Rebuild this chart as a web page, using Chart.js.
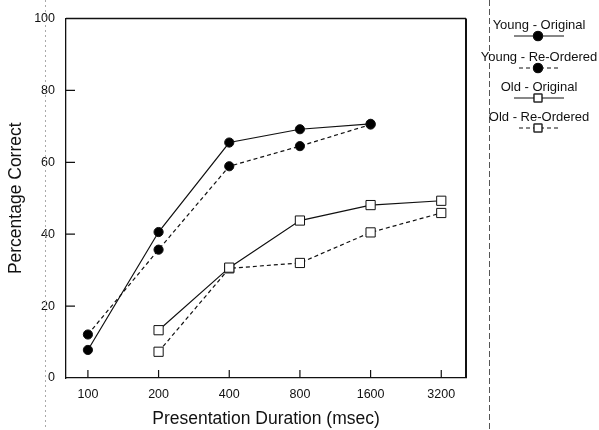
<!DOCTYPE html>
<html>
<head>
<meta charset="utf-8">
<script src="https://cdn.jsdelivr.net/npm/chart.js@4"></script>
<style>
    html, body { margin: 0; padding: 0; background: #fff; }
    #wrap { width: 599px; height: 430px; position: relative; }
</style>
</head>
<body>
<div id="wrap"><canvas id="durationChart" width="599" height="430"></canvas></div>
<script>
// Presentation duration categories (msec), plotted at equal spacing
const durations = ['100', '200', '400', '800', '1600', '3200'];
const yTicks = [0, 20, 40, 60, 80, 100];

// Percentage correct per series (null = no point)
const youngOriginal = [7.8, 40.6, 65.5, 69.2, 70.7, null];
const youngReordered = [12.1, 35.7, 58.9, 64.5, 70.5, null];
const oldOriginal = [null, 13.3, 30.7, 43.8, 48.1, 49.3];
const oldReordered = [null, 7.3, 30.5, 32.0, 40.5, 45.9];

const seriesNames = ['Young - Original', 'Young - Re-Ordered', 'Old - Original', 'Old - Re-Ordered'];

function toPoints(values) {
    return values.map((v, i) => ({ x: i, y: v })).filter(p => p.y !== null);
}

function makeDataset(label, values, dashed, square) {
    return {
        label: label,
        data: toPoints(values),
        borderColor: '#111',
        borderWidth: 1.2,
        borderDash: dashed ? [4, 3] : [],
        pointStyle: square ? 'rect' : 'circle',
        pointRadius: square ? 6.5 : 4.6,
        pointBorderWidth: 1,
        pointBackgroundColor: square ? '#fff' : '#000',
        pointBorderColor: '#111',
        tension: 0
    };
}

// Frame, inward ticks, stray scan lines and the hand-made legend
const framePlugin = {
    id: 'framePlugin',
    afterDraw(chart) {
        const ctx = chart.ctx;
        const area = chart.chartArea;
        const xs = chart.scales.x;
        const ys = chart.scales.y;
        ctx.save();

        // scan guide lines
        ctx.strokeStyle = '#aaa';
        ctx.lineWidth = 1;
        ctx.setLineDash([2, 3]);
        ctx.beginPath();
        ctx.moveTo(45.5, 0);
        ctx.lineTo(45.5, 430);
        ctx.stroke();
        ctx.strokeStyle = '#555';
        ctx.setLineDash([6, 3]);
        ctx.beginPath();
        ctx.moveTo(489.5, 0);
        ctx.lineTo(489.5, 430);
        ctx.stroke();
        ctx.setLineDash([]);

        // frame
        ctx.strokeStyle = '#111';
        ctx.lineWidth = 1.3;
        ctx.beginPath();
        ctx.moveTo(area.left, area.top);
        ctx.lineTo(area.right, area.top);
        ctx.stroke();
        ctx.lineWidth = 2;
        ctx.beginPath();
        ctx.moveTo(area.right, area.top);
        ctx.lineTo(area.right, area.bottom);
        ctx.stroke();

        // inward tick marks
        ctx.lineWidth = 1.2;
        ctx.beginPath();
        xs.ticks.forEach(t => {
            const px = xs.getPixelForValue(t.value);
            ctx.moveTo(px, area.bottom);
            ctx.lineTo(px, area.bottom - 8);
        });
        ys.ticks.forEach(t => {
            if (t.value === 0 || t.value === 100) return;
            const py = ys.getPixelForValue(t.value);
            ctx.moveTo(area.left, py);
            ctx.lineTo(area.left + 9, py);
        });
        ctx.stroke();

        // legend
        const rows = [25, 57, 87, 117];
        const cx = 539;
        ctx.font = '13px "Liberation Sans", Arial, sans-serif';
        ctx.textAlign = 'center';
        ctx.textBaseline = 'middle';
        chart.data.datasets.forEach((ds, i) => {
            const ty = rows[i];
            const ly = ty + 11;
            ctx.fillStyle = '#111';
            ctx.fillText(ds.label, cx, ty);
            ctx.strokeStyle = '#111';
            ctx.lineWidth = 1.2;
            ctx.setLineDash(ds.borderDash);
            ctx.beginPath();
            const half = ds.borderDash.length ? 20 : 25;
            ctx.moveTo(cx - half, ly);
            ctx.lineTo(cx + half, ly);
            ctx.stroke();
            ctx.setLineDash([]);
            Chart.helpers.drawPoint(ctx, {
                pointStyle: ds.pointStyle,
                radius: ds.pointStyle === 'rect' ? 5.5 : ds.pointRadius,
                borderWidth: ds.pointBorderWidth,
                rotation: 0
            }, cx - 1, ly);
            ctx.fillStyle = ds.pointBackgroundColor;
            ctx.fill();
            ctx.strokeStyle = ds.pointBorderColor;
            ctx.lineWidth = ds.pointBorderWidth;
            ctx.stroke();
        });
        ctx.restore();
    }
};

const ctx = document.getElementById('durationChart');
new Chart(ctx, {
    type: 'line',
    data: {
        datasets: [
            makeDataset(seriesNames[0], youngOriginal, false, false),
            makeDataset(seriesNames[1], youngReordered, true, false),
            makeDataset(seriesNames[2], oldOriginal, false, true),
            makeDataset(seriesNames[3], oldReordered, true, true)
        ]
    },
    options: {
        responsive: false,
        animation: false,
        devicePixelRatio: 1,
        layout: { padding: { top: 17, right: 133, bottom: 0, left: 0 } },
        plugins: {
            legend: { display: false },
            tooltip: { enabled: false }
        },
        scales: {
            x: {
                type: 'linear',
                min: -0.31,
                max: 5.35,
                afterBuildTicks: scale => {
                    scale.ticks = durations.map((d, i) => ({ value: i }));
                },
                ticks: {
                    callback: value => durations[value],
                    color: '#111',
                    maxRotation: 0,
                    font: { family: '"Liberation Sans", Arial, sans-serif', size: 12.5 },
                    padding: 9
                },
                grid: { display: false, drawTicks: false, tickLength: 0 },
                border: { display: true, color: '#111', width: 1.3 },
                title: {
                    display: true,
                    text: 'Presentation Duration (msec)',
                    color: '#111',
                    font: { family: '"Liberation Sans", Arial, sans-serif', size: 17.5 },
                    padding: { top: 7, bottom: 0 }
                },
                afterFit: scale => { scale.height = 52; }
            },
            y: {
                min: 0,
                max: 100,
                afterBuildTicks: scale => {
                    scale.ticks = yTicks.map(v => ({ value: v }));
                },
                ticks: {
                    color: '#111',
                    font: { family: '"Liberation Sans", Arial, sans-serif', size: 12.5 },
                    padding: 11
                },
                grid: { display: false, drawTicks: false, tickLength: 0 },
                border: { display: true, color: '#111', width: 1.3 },
                title: {
                    display: true,
                    text: 'Percentage Correct',
                    color: '#111',
                    font: { family: '"Liberation Sans", Arial, sans-serif', size: 17.5 },
                    padding: { top: 6, bottom: 4 }
                },
                afterFit: scale => { scale.width = 66; }
            }
        }
    },
    plugins: [framePlugin]
});
</script>
</body>
</html>
